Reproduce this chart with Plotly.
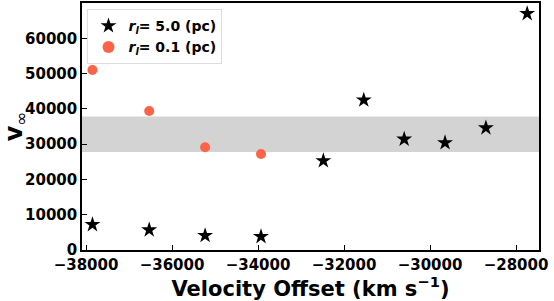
import plotly.graph_objects as go

vel_offset = [-37850, -36530, -35230, -33930, -32480, -31540, -30600, -29650, -28700, -27740]
v_inf_r5 = [7200, 5700, 4100, 3800, 25300, 42500, 31400, 30400, 34600, 67000]
vel_offset_r01 = [-37850, -36530, -35230, -33930]
v_inf_r01 = [51000, 39400, 29100, 27200]
band_low, band_high = 27800, 37800
xticks = [-38000, -36000, -34000, -32000, -30000, -28000]
yticks = [0, 10000, 20000, 30000, 40000, 50000, 60000]

font = "DejaVu Sans"

fig = go.Figure()
fig.add_trace(go.Scatter(
    x=vel_offset, y=v_inf_r5, mode="markers",
    marker=dict(symbol="star", size=12, color="black", line=dict(width=0)),
    name="<b><i>r</i><sub><i>l</i></sub>= 5.0 (pc)</b>",
))
fig.add_trace(go.Scatter(
    x=vel_offset_r01, y=v_inf_r01, mode="markers",
    marker=dict(symbol="circle", size=10, color="tomato", line=dict(width=0)),
    name="<b><i>r</i><sub><i>l</i></sub>= 0.1 (pc)</b>",
))
fig.add_shape(type="rect", xref="paper", yref="y", x0=0, x1=1, y0=band_low, y1=band_high,
              fillcolor="#d3d3d3", line=dict(width=0), layer="below")

fig.update_layout(
    width=554, height=301,
    margin=dict(l=82, r=15, t=3, b=51, autoexpand=False),
    plot_bgcolor="white", paper_bgcolor="white",
    font=dict(family=font, color="black", size=14),
    showlegend=True,
    legend=dict(x=0.012, y=0.975, xanchor="left", yanchor="top",
                bgcolor="rgba(255,255,255,0.8)", bordercolor="#dddddd", borderwidth=1,
                font=dict(family=font, size=14, color="black"), itemsizing="constant",
                tracegroupgap=0),
)
fig.update_xaxes(
    range=[-38093, -27465], tickvals=xticks, ticktext=[f"\u2212{abs(v)}" for v in xticks],
    ticks="inside", ticklen=5, tickwidth=1.2, tickcolor="black", automargin=False,
    showline=True, linecolor="black", linewidth=1.5, mirror=True, showgrid=False, zeroline=False,
    tickfont=dict(family=font, size=15, color="black", weight="bold"),
    title=dict(text="<b>Velocity Offset (km s<sup>\u22121</sup>)</b>", font=dict(family=font, size=21), standoff=2),
)
fig.update_yaxes(
    range=[0, 70000], tickvals=yticks, ticktext=[str(v) for v in yticks],
    ticks="inside", ticklen=5, tickwidth=1.2, tickcolor="black", automargin=False,
    showline=True, linecolor="black", linewidth=1.5, mirror=True, showgrid=False, zeroline=False,
    tickfont=dict(family=font, size=15, color="black", weight="bold"),
    title=dict(text="<b>v</b><sub>\u221e</sub>", font=dict(family=font, size=24), standoff=6),
)
fig.write_html("out.html", config={"displayModeBar": False},
               post_script="document.body.style.margin='0';")
